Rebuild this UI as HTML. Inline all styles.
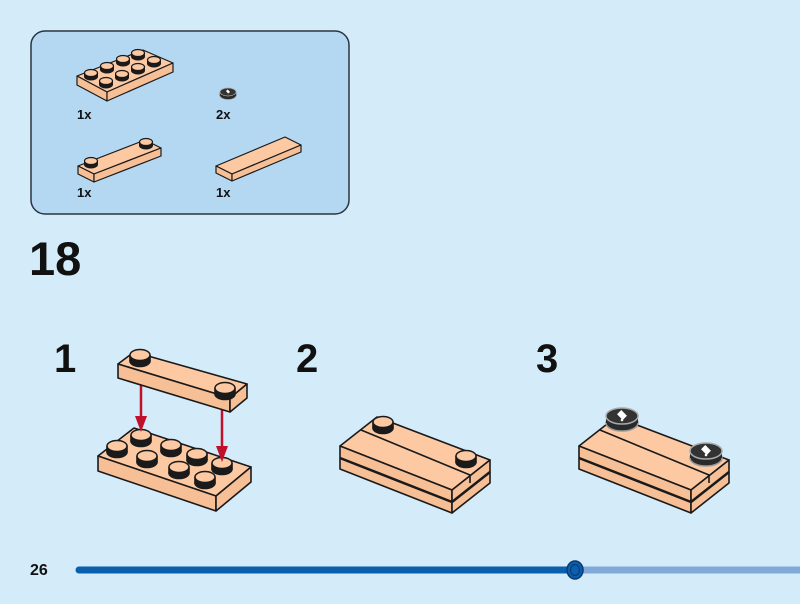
<!DOCTYPE html>
<html><head><meta charset="utf-8"><style>
html,body{margin:0;padding:0;background:#d4ebfa;}
svg{display:block}
text{font-family:"Liberation Sans",sans-serif;font-weight:bold;fill:#111}
</style></head><body>
<svg width="800" height="604" viewBox="0 0 800 604" xmlns="http://www.w3.org/2000/svg">
<defs>
<g id="s"><ellipse cx="0" cy="6" rx="10" ry="5.5" fill="#1a1a1a"/><rect x="-10" y="0" width="20" height="6" fill="#1a1a1a"/><ellipse cx="0" cy="0" rx="10" ry="5.5" fill="#fcc9a3" stroke="#1a1a1a" stroke-width="1.5"/></g>
<g id="ss"><ellipse cx="0" cy="3.5" rx="6.5" ry="3.5" fill="#1a1a1a"/><rect x="-6.5" y="0" width="13" height="3.5" fill="#1a1a1a"/><ellipse cx="0" cy="0" rx="6.5" ry="3.5" fill="#fcc9a3" stroke="#1a1a1a" stroke-width="1.2"/></g>
<g id="t"><ellipse cx="0" cy="7" rx="16" ry="8" fill="#2a2a2a" stroke="#999" stroke-width="1.5"/><rect x="-16" y="0" width="32" height="7" fill="#2a2a2a"/><ellipse cx="0" cy="0" rx="16" ry="8" fill="#333" stroke="#aaa" stroke-width="1.5"/><rect x="-4" y="-4" width="8" height="6" fill="#fff" transform="rotate(45 0 -1)"/><circle cx="0" cy="4" r="1.3" fill="#fff"/></g>
</defs>
<g stroke="#1a1a1a" stroke-linejoin="round">
<rect x="31" y="31" width="318" height="183" rx="14" fill="#b5d8f2" stroke="#2a3440" stroke-width="1.5"/>
<polygon points="77,76 143,50 173,63 107,92" fill="#fcc9a3" stroke-width="1.2"/>
<polygon points="77,76 107,92 107,101 77,85" fill="#f7bf96" stroke-width="1.2"/>
<polygon points="107,92 173,63 173,72 107,101" fill="#f7bf96" stroke-width="1.2"/>
<use href="#ss" x="91" y="73"/><use href="#ss" x="107" y="66"/><use href="#ss" x="123" y="59"/><use href="#ss" x="138" y="53"/>
<use href="#ss" x="106" y="81"/><use href="#ss" x="122" y="74"/><use href="#ss" x="138" y="67"/><use href="#ss" x="154" y="60"/>
<g transform="translate(228,92) scale(0.5)"><use href="#t"/></g>
<polygon points="78,166 145,140 161,148 94,174" fill="#fcc9a3" stroke-width="1.2"/>
<polygon points="78,166 94,174 94,182 78,174" fill="#f7bf96" stroke-width="1.2"/>
<polygon points="94,174 161,148 161,156 94,182" fill="#f7bf96" stroke-width="1.2"/>
<use href="#ss" x="91" y="161"/><use href="#ss" x="146" y="142"/>
<polygon points="216,166 285,137 301,145 232,174" fill="#fcc9a3" stroke-width="1.2"/>
<polygon points="216,166 232,174 232,181 216,173" fill="#f7bf96" stroke-width="1.2"/>
<polygon points="232,174 301,145 301,152 232,181" fill="#f7bf96" stroke-width="1.2"/>
</g>
<text x="77" y="119" font-size="13">1x</text>
<text x="216" y="119" font-size="13">2x</text>
<text x="77" y="197" font-size="13">1x</text>
<text x="216" y="197" font-size="13">1x</text>
<text x="29" y="275" font-size="47">18</text>
<text x="54" y="372" font-size="40">1</text>
<text x="296" y="372" font-size="40">2</text>
<text x="536" y="372" font-size="40">3</text>
<g stroke="#1a1a1a" stroke-width="1.6" stroke-linejoin="round">
<polygon points="98,456 134,428 251,467 216,496" fill="#fcc9a3"/>
<polygon points="98,456 216,496 216,511 98,471" fill="#f7bf96"/>
<polygon points="216,496 251,467 251,482 216,511" fill="#f7bf96"/>
<use href="#s" x="141" y="435"/><use href="#s" x="171" y="445"/><use href="#s" x="197" y="454"/><use href="#s" x="222" y="463"/>
<use href="#s" x="117" y="446"/><use href="#s" x="147" y="456"/><use href="#s" x="179" y="467"/><use href="#s" x="205" y="477"/>
<g stroke="#c0102a" stroke-width="2.5"><line x1="141" y1="378" x2="141" y2="420"/><line x1="222" y1="410" x2="222" y2="450"/></g>
<polygon points="135,416 147,416 141,432" fill="#c0102a" stroke="none"/>
<polygon points="216,446 228,446 222,462" fill="#c0102a" stroke="none"/>
<polygon points="118,364 134,352 247,384 230,398" fill="#fcc9a3"/>
<polygon points="118,364 230,398 230,412 118,378" fill="#f7bf96"/>
<polygon points="230,398 247,384 247,398 230,412" fill="#f7bf96"/>
<use href="#s" x="140" y="355"/><use href="#s" x="225" y="388"/>
<polygon points="340,446 377,417 490,460 452,490" fill="#fcc9a3"/>
<polygon points="340,446 452,490 452,513 340,469" fill="#f7bf96"/>
<polygon points="452,490 490,460 490,483 452,513" fill="#f7bf96"/>
<line x1="340" y1="458" x2="452" y2="502" stroke-width="2.5"/>
<line x1="452" y1="502" x2="490" y2="472" stroke-width="2.5"/>
<line x1="361" y1="430" x2="470" y2="475"/><line x1="470" y1="475" x2="470" y2="483"/>
<use href="#s" x="383" y="422"/><use href="#s" x="466" y="456"/>
<polygon points="579,446 616,417 729,460 691,490" fill="#fcc9a3"/>
<polygon points="579,446 691,490 691,513 579,469" fill="#f7bf96"/>
<polygon points="691,490 729,460 729,483 691,513" fill="#f7bf96"/>
<line x1="579" y1="458" x2="691" y2="502" stroke-width="2.5"/>
<line x1="691" y1="502" x2="729" y2="472" stroke-width="2.5"/>
<line x1="600" y1="430" x2="709" y2="475"/><line x1="709" y1="475" x2="709" y2="483"/>
</g>
<use href="#t" x="622" y="416"/><use href="#t" x="706" y="451"/>
<text x="30" y="575" font-size="16">26</text>
<line x1="575" y1="570" x2="800" y2="570" stroke="#80a8d8" stroke-width="7"/>
<line x1="79" y1="570" x2="575" y2="570" stroke="#0a5fae" stroke-width="7" stroke-linecap="round"/>
<ellipse cx="575" cy="570" rx="8" ry="9" fill="#0a5fae" stroke="#0a3a70" stroke-width="1.5"/>
<ellipse cx="575" cy="570" rx="4.5" ry="5.5" fill="none" stroke="#0a3a70" stroke-width="1.2"/>
</svg>
</body></html>
